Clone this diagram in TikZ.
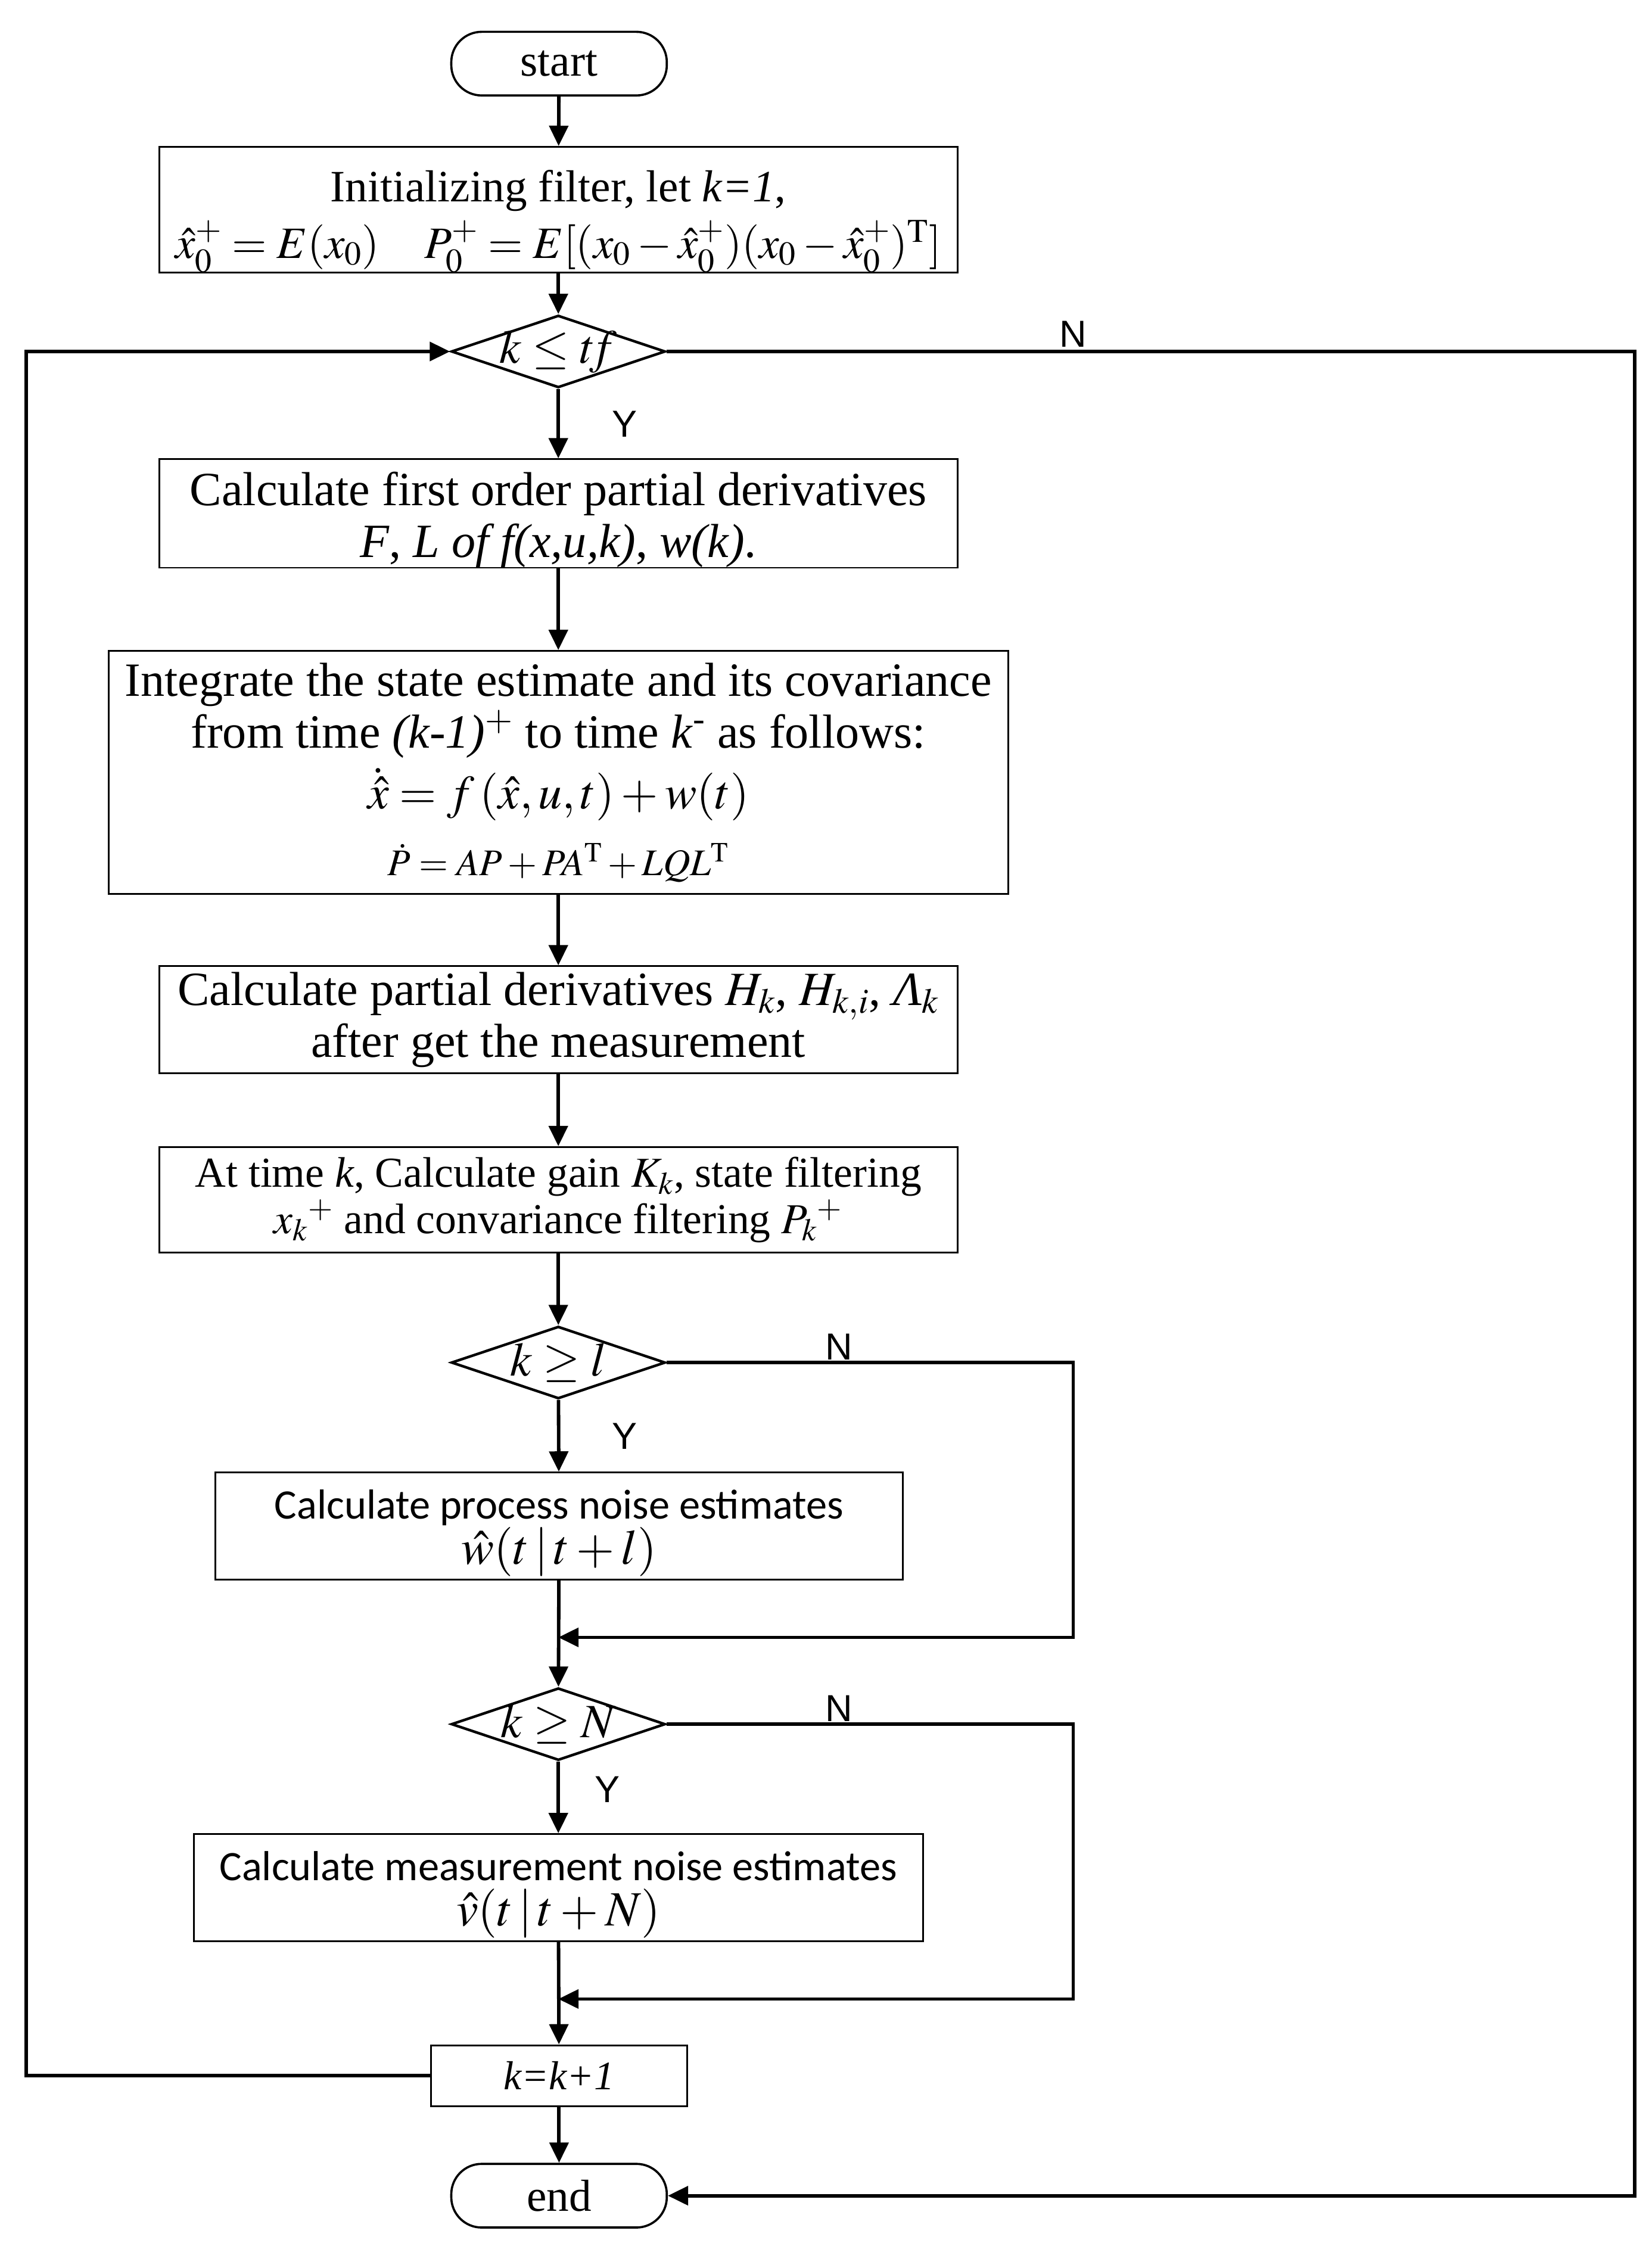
\documentclass[tikz,border=0pt]{standalone}
\usepackage{mathptmx}
\usepackage{fontspec}
\setmainfont{Liberation Serif}
\newfontfamily\calib{Carlito}
\newfontfamily\lsans{Liberation Sans}
\usetikzlibrary{shapes.geometric,arrows.meta}
\begin{document}
\begin{tikzpicture}[x=1pt,y=-1pt,
  box/.style={draw,line width=1.2pt,inner sep=0pt,align=center,font=\fontsize{33}{36}\selectfont},
  smallbox/.style={box,font=\fontsize{29.5}{32}\selectfont},
  calbox/.style={box,font=\calib\fontsize{29}{31}\selectfont},
  term/.style={draw,line width=1.5pt,rounded corners=21pt,minimum width=149pt,minimum height=44pt,inner sep=0pt,font=\fontsize{31}{32}\selectfont},
  dia/.style={draw,diamond,line width=1.8pt,minimum width=148pt,minimum height=50pt,inner sep=0pt},
  dlab/.style={font=\fontsize{33}{34}\selectfont,inner sep=0pt},
  conn/.style={line width=2.4pt,-{Triangle[width=13pt,length=14pt]}},
  lab/.style={font=\lsans\fontsize{26}{28}\selectfont,inner sep=0pt}
]
\useasboundingbox (0,0) rectangle (1140,1568);

\node[term] (start) at (386.5,44) {start};
\node[box,minimum width=552pt,minimum height=82pt,font=\fontsize{31}{36}\selectfont] (init) at (386,145)
  {\rule{0pt}{38pt}Initializing filter, let \textit{k=1},\\[3pt]
   $\hat{x}_0^+ = E(x_0)\quad P_0^+ = E[(x_0-\hat{x}_0^+)(x_0-\hat{x}_0^+)^{\mathrm{T}}]$};
\node[dia,label={[dlab]center:$k\leq t\!f$}] (d1) at (386,243) {};
\node[box,minimum width=552pt,minimum height=74pt] (b2) at (386,355)
  {\rule{0pt}{32pt}Calculate first order partial derivatives\\
   \textit{F}, \textit{L of f(x,u,k)}, \textit{w(k)}.};
\node[box,minimum width=622pt,minimum height=168pt] (b3) at (386,534)
  {Integrate the state estimate and its covariance\\
   from time \textit{(k-1)}$^{+}$ to time \textit{k}\textsuperscript{-} as follows:\\[6pt]
   $\dot{\hat{x}} = f\,(\hat{x},u,t)+w(t)$\\[10pt]
   {\fontsize{26}{28}\selectfont$\dot{P} = AP+PA^{\mathrm{T}}+LQL^{\mathrm{T}}$}};
\node[box,minimum width=552pt,minimum height=74pt] (b4) at (386,705)
  {Calculate partial derivatives $H_k$, $H_{k,i}$, \textit{Λ}$_k$\\
   after get the measurement};
\node[smallbox,minimum width=552pt,minimum height=73pt] (b5) at (386,829.5)
  {At time \textit{k}, Calculate gain $K_k$, state filtering\\
   $x_k{}^{+}$ and convariance filtering $P_k{}^{+}$};
\node[dia,label={[dlab]center:$k\geq l$}] (d2) at (386,942) {};
\node[calbox,minimum width=475pt,minimum height=74pt] (b6) at (386.5,1055)
  {\rule{0pt}{30pt}Calculate process noise estimates\\
   {\fontsize{34}{34}\selectfont$\hat{w}(t\,|\,t+l)$}};
\node[dia,label={[dlab]center:$k\geq N$}] (d3) at (386,1192) {};
\node[calbox,minimum width=504pt,minimum height=74pt] (b7) at (386,1305)
  {\rule{0pt}{30pt}Calculate measurement noise estimates\\
   {\fontsize{34}{34}\selectfont$\hat{v}(t\,|\,t+N)$}};
\node[box,minimum width=177pt,minimum height=42pt,font=\fontsize{28}{30}\selectfont] (b8) at (386.5,1435) {\textit{k=k+1}};
\node[term] (end) at (386.5,1518) {end};

\coordinate (m1) at (386,1132);
\coordinate (m2) at (386,1382);
\coordinate (r1) at (742,1132);
\coordinate (r2) at (742,1382);
\coordinate (rr) at (1130,1518);
\coordinate (ll) at (18,243);

\draw[conn] (start) -- (init);
\draw[conn] (init) -- (d1);
\draw[conn] (d1) -- (b2);
\draw[conn] (b2) -- (b3);
\draw[conn] (b3) -- (b4);
\draw[conn] (b4) -- (b5);
\draw[conn] (b5) -- (d2);
\draw[conn] (d2) -- (b6);
\draw[conn] (b6) -- (d3);
\draw[conn] (d3) -- (b7);
\draw[conn] (b7) -- (b8);
\draw[conn] (b8) -- (end);
\draw[conn] (d2.east) -| (r1) -- (m1);
\draw[conn] (d3.east) -| (r2) -- (m2);
\draw[conn] (b8.west) -| (ll) -- (d1.west);
\draw[conn] (d1.east) -| (rr) -- (end.east);

\node[lab] (n1) at (742,231) {N};
\node[lab] (y1) at (432,293) {Y};
\node[lab] (n2) at (580,931) {N};
\node[lab] (y2) at (432,993) {Y};
\node[lab] (n3) at (580,1181) {N};
\node[lab] (y3) at (420,1237) {Y};
\end{tikzpicture}
\end{document}
